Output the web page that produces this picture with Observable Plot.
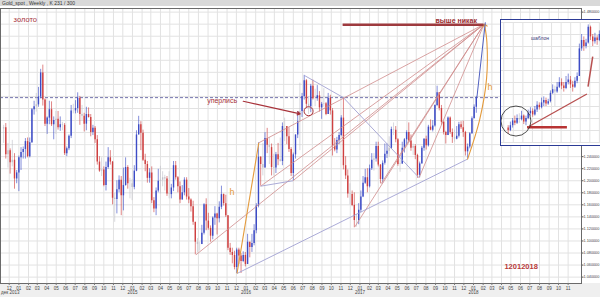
<!DOCTYPE html>
<html><head><meta charset="utf-8">
<script src="https://cdn.jsdelivr.net/npm/d3@7"></script>
<script src="https://cdn.jsdelivr.net/npm/@observablehq/plot@0.6"></script>
<style>
html,body{margin:0;padding:0;width:600px;height:297px;overflow:hidden;background:#fff;font-family:"Liberation Sans",Arial,sans-serif;}
#wrap{position:relative;width:600px;height:297px;}
#topbar{position:absolute;left:0;top:0;width:600px;height:6px;background:#d9d9d9;font-size:5px;line-height:6px;color:#333;padding-left:2px;box-sizing:border-box;white-space:nowrap;}
#bottombar{position:absolute;left:0;top:283px;width:600px;height:14px;background:#efefef;}
#main{position:absolute;left:0;top:0;}
#inset{position:absolute;left:500px;top:19px;width:102px;height:127px;border:1.5px solid #2c3b96;box-sizing:border-box;background:#fff;overflow:hidden;}
</style></head><body>
<div id="wrap"><div id="bottombar"></div><div id="main"></div><div id="topbar">Gold_spot , Weekly , K 231 / 300</div><div id="inset"></div></div>
<script>
// ---------- weekly gold bars, first week starts Mon 2013-11-11 ----------
const firstOpen = 1286;
const closes = [
1288,1243,1250,1230,1234,1203,1213,1238,
1247,1252,1265,1240,1263,1318,1323,1326,1339,1379,1334,1294,1304,1318,1293,1300,1302,1288,1293,1292,1245,1253,1274,1316,1316,1320,1337,1310,1307,1294,1310,1305,1280,1287,1268,1231,1216,1218,1192,1222,1238,1231,1171,1169,1185,1201,1175,1192,1222,1195,1195,1189,
1216,1276,1293,1279,1234,1227,1204,1213,1167,1153,1183,1199,1201,1205,1203,1178,1177,1188,1225,1205,1190,1168,1180,1201,1173,1168,1157,1131,1098,1094,1094,1113,1160,1133,1121,1108,1138,1145,1137,1156,1177,1162,1142,1088,1081,1076,1056,1085,1075,1066,1076,1061,
1098,1089,1096,1117,1158,1239,1227,1221,1270,1259,1255,1222,1221,1243,1235,1232,1290,1290,1273,1252,1212,1243,1276,1298,1315,1340,1366,1327,1323,1357,1336,1336,1341,1321,1327,1328,1310,1337,1316,1257,1251,1267,1275,1304,1225,1208,1178,1177,1159,1134,1134,1151,
1173,1196,1205,1190,1220,1234,1236,1257,1226,1202,1229,1244,1249,1254,1285,1284,1268,1227,1228,1254,1268,1280,1266,1254,1257,1242,1209,1228,1254,1269,1258,1289,1284,1291,1325,1346,1320,1297,1280,1275,1304,1280,1272,1269,1274,1293,1288,1280,1248,1256,1278,1303,
1322,1338];
const highs = [
1292,1295,1262,1253,1267,1245,1217,1241,
1255,1256,1270,1271,1271,1320,1332,1345,1355,1385,1392,1336,1306,1332,1331,1306,1315,1315,1306,1297,1295,1256,1276,1325,1327,1333,1346,1340,1325,1312,1322,1321,1310,1292,1290,1275,1240,1238,1223,1231,1255,1250,1232,1179,1200,1208,1207,1221,1238,1225,1204,1202,
1225,1283,1307,1298,1284,1244,1232,1220,1223,1172,1188,1219,1224,1215,1209,1207,1215,1194,1232,1232,1207,1198,1192,1205,1205,1187,1170,1166,1130,1104,1098,1126,1162,1170,1146,1125,1140,1157,1146,1165,1191,1178,1176,1142,1096,1088,1083,1088,1088,1079,1082,1081,
1111,1098,1111,1127,1162,1263,1240,1262,1280,1287,1272,1261,1244,1247,1262,1271,1296,1304,1286,1288,1255,1246,1276,1315,1362,1345,1375,1368,1340,1360,1367,1352,1358,1348,1330,1353,1330,1345,1342,1320,1270,1272,1280,1308,1338,1240,1218,1195,1183,1180,1144,1162,
1183,1207,1219,1220,1226,1245,1245,1264,1264,1227,1233,1261,1261,1273,1289,1296,1290,1270,1236,1264,1270,1283,1296,1276,1261,1260,1244,1231,1257,1270,1274,1292,1301,1300,1326,1357,1338,1325,1299,1282,1306,1306,1286,1284,1290,1297,1298,1299,1282,1261,1280,1306,
1326,1340];
const lows = [
1262,1236,1221,1211,1223,1186,1195,1182,
1217,1236,1236,1238,1238,1262,1309,1314,1322,1336,1324,1290,1277,1293,1290,1268,1277,1284,1282,1283,1242,1240,1250,1270,1311,1311,1312,1292,1299,1281,1283,1304,1273,1275,1262,1226,1214,1207,1190,1183,1219,1226,1160,1131,1145,1180,1142,1150,1191,1186,1170,1167,
1185,1215,1276,1250,1232,1215,1196,1196,1162,1147,1142,1180,1178,1190,1183,1174,1170,1170,1182,1201,1180,1162,1170,1175,1168,1162,1148,1126,1077,1080,1083,1095,1110,1117,1118,1098,1102,1126,1110,1130,1152,1158,1139,1084,1076,1062,1052,1046,1061,1046,1064,1057,
1073,1072,1081,1092,1112,1155,1191,1208,1226,1245,1227,1208,1208,1212,1225,1231,1225,1265,1260,1247,1207,1200,1236,1270,1250,1305,1334,1320,1310,1313,1334,1323,1332,1314,1302,1322,1308,1311,1309,1241,1248,1245,1260,1273,1218,1202,1171,1160,1157,1122,1123,1127,
1147,1172,1194,1180,1188,1217,1216,1231,1223,1195,1196,1226,1237,1239,1252,1275,1263,1224,1214,1227,1246,1259,1264,1249,1242,1235,1204,1205,1230,1249,1251,1256,1283,1281,1289,1323,1316,1292,1276,1261,1276,1277,1262,1264,1268,1271,1285,1272,1241,1236,1253,1277,
1303,1312];

// price ticks and axis labels
const priceTicks = d3.range(1040, 1481, 20);
const monthTicks = d3.utcMonths(new Date(Date.UTC(2013,11,1)), new Date(Date.UTC(2018,10,2)));
const firstDateLabel = {d:"2013-11-05", t:"дек 2013"};
const yearLabels = [
  {d:"2015-01-01", t:"2015"}, {d:"2016-01-01", t:"2016"},
  {d:"2017-01-01", t:"2017"}, {d:"2018-01-01", t:"2018"}];

// hand-drawn annotations (date, price)
const apex = ["2018-02-04", 1460];
const fanFrom = [["2015-07-24",1077],["2016-02-11",1263],["2016-02-17",1191],["2016-05-31",1200],["2016-12-15",1123],["2017-03-10",1195],["2017-07-10",1205]];
const grayLines = [
  [["2015-12-03",1046],["2017-12-13",1236]],
  [["2016-11-09",1338],["2017-07-10",1205]],
  [["2016-07-06",1375],["2016-11-09",1338]],
  [["2016-02-17",1191],["2016-05-31",1200]]];
const orangeLeft = [["2015-12-03",1046],["2016-02-11",1263]];
const orangeRight = [["2017-12-13",1236],["2018-01-21",1302],["2018-02-12",1370],["2018-02-13",1430],["2018-02-06",1458]];
const blueLine = [["2018-01-12",1339],["2018-02-08",1463]];
const dashedLevel = {p:1338, from:"2013-11-03", to:"2018-03-29"};
const topLevel = {p:1459, from:"2016-11-08", to:"2018-02-04"};
const startTexts = [
  {d:"2013-12-15", p:1468, t:"золото", size:7.5, w:"normal"},
  {d:"2015-08-29", p:1333, t:"уперлись", size:7, w:"normal"}];
const endTexts = [{d:"2018-01-12", p:1466, t:"выше никак", size:7, w:"600"}];
const hTexts = [{d:"2015-11-17", p:1181, t:"h"}, {d:"2018-02-23", p:1355, t:"h"}];
const dateStamp = {d:"2018-06-03", p:1058, t:"12012018"};
const arrowNote = {from:["2015-12-23",1332], to:["2016-06-23",1311]};
const circleNote = ["2016-07-20", 1315.5];

// ---------- inset ("шаблон") bars ----------
const insetFirstOpen = 12;
const insetClose = [10,14,18,16,20,19,22,17,20,24,26,23,27,31,29,33,35,32,34,41,44,42,46,50,47,45,50,52,48,46,51,55,78,85,80,83,96,88,84,87,85,90];
const insetHigh  = [14,17,20,22,23,24,26,23,22,27,29,28,30,34,33,37,38,37,36,43,48,47,50,54,53,50,55,57,55,51,54,58,82,90,88,86,98,97,90,91,89,93];
const insetLow   = [7,9,12,14,15,16,18,15,14,19,22,21,22,25,27,28,30,30,31,33,40,30,41,45,44,42,44,48,45,42,45,49,55,76,76,78,82,85,80,82,81,84];

// ---------- build ----------
const D = s => new Date(s + "T00:00:00Z");
const BLUE = "#3d4cc6", RED = "#cf4040", GRAY = "#c2c2ca";
function barColor(d){ const body = Math.abs(d.c - d.o), r = (d.h - d.l) || 1; return body < 0.18 * r ? GRAY : (d.c >= d.o ? BLUE : RED); }
const week = 7 * 864e5, start = Date.UTC(2013,10,13);
const bars = closes.map((c,i) => { const o = i ? closes[i-1] : firstOpen; return {date:new Date(start + i*week), o, c, h:Math.max(highs[i],o,c), l:Math.min(lows[i],o,c)}; });
const pt = ([d,p]) => ({x:D(d), y:p});
const fanLinks = fanFrom.map(f => ({x1:D(f[0]), y1:f[1], x2:D(apex[0]), y2:apex[1]}));
const grayLinks = grayLines.map(([a,b]) => ({x1:D(a[0]), y1:a[1], x2:D(b[0]), y2:b[1]}));
const lk = ([a,b]) => [{x1:D(a[0]), y1:a[1], x2:D(b[0]), y2:b[1]}];
const TX = {x: d => D(d.d), y: "p", text: "t"};

const main = Plot.plot({
  width: 600, height: 297, marginTop: 8, marginBottom: 14, marginLeft: 0, marginRight: 19,
  style: {background: "none", fontFamily: "Liberation Sans, Arial, sans-serif"},
  x: {type: "utc", domain: [D("2013-11-03"), D("2018-12-14")]},
  y: {domain: [1029.4, 1486]},
  marks: [
    Plot.frame({fill: "white", stroke: "none"}),
    Plot.ruleX(monthTicks, {stroke: "#e2e2e2", strokeWidth: 1}),
    Plot.ruleY(priceTicks, {stroke: "#e2e2e2", strokeWidth: 1}),
    Plot.ruleY([dashedLevel], {y: "p", x1: d => D(d.from), x2: d => D(d.to), stroke: "#7474ad", strokeDasharray: "3,2", strokeWidth: 1}),
    Plot.ruleX(bars, {x: "date", y1: "l", y2: "h", stroke: barColor, strokeWidth: 0.9, strokeOpacity: 0.7}),
    Plot.ruleX(bars, {x: "date", y1: "o", y2: "c", stroke: barColor, strokeWidth: 1.4}),
    Plot.link(fanLinks, {x1: "x1", y1: "y1", x2: "x2", y2: "y2", stroke: "#cf8c8c", strokeWidth: 0.8}),
    Plot.link(grayLinks, {x1: "x1", y1: "y1", x2: "x2", y2: "y2", stroke: "#a2a2d2", strokeWidth: 0.9}),
    Plot.link(lk(orangeLeft), {x1: "x1", y1: "y1", x2: "x2", y2: "y2", stroke: "#e39a3c", strokeWidth: 1.1}),
    Plot.line(orangeRight.map(pt), {x: "x", y: "y", curve: "catmull-rom", stroke: "#e39a3c", strokeWidth: 1.1, markerEnd: "arrow"}),
    Plot.link(lk(blueLine), {x1: "x1", y1: "y1", x2: "x2", y2: "y2", stroke: "#5060c0", strokeWidth: 1}),
    Plot.ruleY([topLevel], {y: "p", x1: d => D(d.from), x2: d => D(d.to), stroke: "#9e3a3e", strokeWidth: 2.5}),
    Plot.arrow([arrowNote], {x1: d => D(d.from[0]), y1: d => d.from[1], x2: d => D(d.to[0]), y2: d => d.to[1], stroke: "#a8323a", strokeWidth: 1.2, headLength: 4}),
    Plot.dot([pt(circleNote)], {x: "x", y: "y", r: 4.5, stroke: "#a8323a", fill: "none", strokeWidth: 1}),
    Plot.text(startTexts, {...TX, fontSize: d => d.size, fill: "#a8323a", textAnchor: "start"}),
    Plot.text(endTexts, {...TX, fontSize: 7, fill: "#9a2c30", textAnchor: "end", fontWeight: 600}),
    Plot.text(hTexts, {...TX, fontSize: 9, fill: "#e39a3c"}),
    Plot.text([dateStamp], {...TX, fontSize: 7.5, fill: "#b83a3a", fontWeight: "bold"}),
    Plot.frame({stroke: "#6a6a6a", strokeWidth: 1}),
    Plot.axisX({ticks: monthTicks, tickFormat: d3.utcFormat("%m"), tickSize: 2, tickPadding: 1, fontSize: 4.5, fill: "#444", stroke: "#777"}),
    Plot.text(yearLabels, {x: d => D(d.d), text: "t", frameAnchor: "bottom", dy: 10, fontSize: 4.5, fill: "#444"}),
    Plot.text([firstDateLabel], {x: d => D(d.d), text: "t", frameAnchor: "bottom", dy: 10, fontSize: 4.5, fill: "#444", textAnchor: "start"}),
    Plot.axisY({anchor: "right", ticks: priceTicks, tickFormat: v => (v/1000).toFixed(6), tickSize: 1.5, tickPadding: 0.5, fontSize: 3.8, fill: "#444", stroke: "#555"})
  ]
});
document.getElementById("main").appendChild(main);

// inset
const ibars = insetClose.map((c,i) => { const o = i ? insetClose[i-1] : insetFirstOpen; return {i, o, c, h:Math.max(insetHigh[i],o,c), l:Math.min(insetLow[i],o,c)}; });
const insetNotes = {
  label: {x:14.3, v:87, t:"шаблон"},
  circle: {x:3.5, v:17.9},
  base: [[8.5,12.7],[26.4,12.7]],
  diag: [[8.9,12.9],[35.4,40.4]],
  steep: [[35.9,46.5],[38.0,71.5]]
};
const ilk = ([a,b]) => [{x1:a[0], y1:a[1], x2:b[0], y2:b[1]}];
const inset = Plot.plot({
  width: 99, height: 124, margin: 0, marginTop: 2, marginBottom: 2,
  style: {background: "white", fontFamily: "Liberation Sans, Arial, sans-serif"},
  x: {domain: [-3, 41.5], axis: null},
  y: {domain: [0, 100], axis: null},
  marks: [
    Plot.ruleX(d3.range(-2, 42, 4.3), {stroke: "#e2e2e2"}),
    Plot.ruleY(d3.range(0, 101, 10), {stroke: "#e2e2e2"}),
    Plot.ruleX(ibars, {x: "i", y1: "l", y2: "h", stroke: barColor, strokeWidth: 0.9, strokeOpacity: 0.7}),
    Plot.ruleX(ibars, {x: "i", y1: "o", y2: "c", stroke: barColor, strokeWidth: 1.4}),
    Plot.link(ilk(insetNotes.base), {x1: "x1", y1: "y1", x2: "x2", y2: "y2", stroke: "#b83434", strokeWidth: 2.5}),
    Plot.link(ilk(insetNotes.diag), {x1: "x1", y1: "y1", x2: "x2", y2: "y2", stroke: "#b85050", strokeWidth: 1.3}),
    Plot.link(ilk(insetNotes.steep), {x1: "x1", y1: "y1", x2: "x2", y2: "y2", stroke: "#b85050", strokeWidth: 1.5}),
    Plot.dot([insetNotes.circle], {x: "x", y: "v", r: 15, stroke: "#222", fill: "none", strokeWidth: 0.8}),
    Plot.text([insetNotes.label], {x: "x", y: "v", text: "t", fontSize: 5, fill: "#3b3b7a"})
  ]
});
document.getElementById("inset").appendChild(inset);
</script>
</body></html>
